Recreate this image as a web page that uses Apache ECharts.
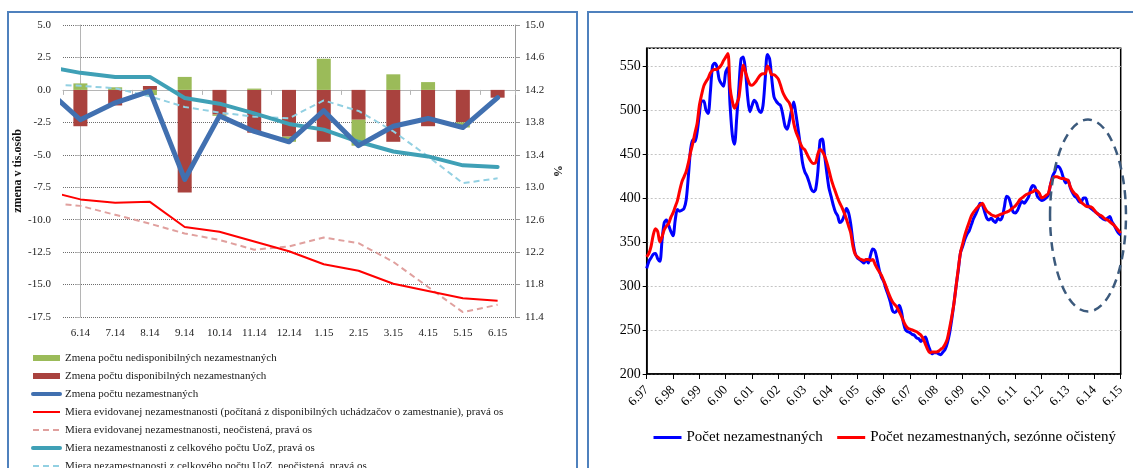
<!DOCTYPE html>
<html><head><meta charset="utf-8">
<script src="https://cdn.jsdelivr.net/npm/echarts@6/dist/echarts.min.js"></script>
<style>html,body{margin:0;padding:0;background:#fff}#c{width:1133px;height:468px}</style>
</head><body><div id="c"></div>
<script>
// ---------- Left chart data ----------
const leftCats = ['6.14','7.14','8.14','9.14','10.14','11.14','12.14','1.15','2.15','3.15','4.15','5.15','6.15'];
// line series include the preceding month 5.14 (clipped at the left edge)
const lineCats = ['5.14','6.14','7.14','8.14','9.14','10.14','11.14','12.14','1.15','2.15','3.15','4.15','5.15','6.15'];
const nedisponibilni = [0.5, 0.2, -0.4, 1.0, -0.1, 0.1, -0.4, 2.4, -2.0, 1.2, 0.6, -0.4, 0.0];
const disponibilni   = [-2.8, -1.2, 0.3, -7.9, -1.9, -3.3, -3.6, -4.0, -2.3, -4.0, -2.8, -2.5, -0.6];
const zmenaSpolu     = [0.1, -2.3, -1.0, -0.1, -6.9, -2.0, -3.2, -4.0, -1.6, -4.3, -2.8, -2.2, -2.9, -0.6];
const mieraEvid      = [12.96, 12.85, 12.81, 12.82, 12.51, 12.45, 12.33, 12.21, 12.05, 11.97, 11.81, 11.72, 11.63, 11.60];
const mieraEvidNeoc  = [12.81, 12.77, 12.66, 12.55, 12.43, 12.35, 12.23, 12.27, 12.38, 12.31, 12.08, 11.77, 11.46, 11.55];
const mieraUoZ       = [14.49, 14.41, 14.36, 14.36, 14.10, 14.03, 13.91, 13.78, 13.71, 13.56, 13.44, 13.38, 13.27, 13.25];
const mieraUoZNeoc   = [14.27, 14.25, 14.22, 14.12, 13.99, 13.92, 13.87, 13.85, 14.07, 13.94, 13.69, 13.38, 13.05, 13.11];
const leftTicks = {min: -17.5, max: 5, interval: 2.5};
const rightTicks = {min: 11.4, max: 15.0, interval: 0.4};

// ---------- Right chart data (monthly, 6.97 .. 6.15) ----------
const startYear = 1997, startMonth = 6, nMonths = 217;
const pocet = [
 320,328,332,336,337,331,328,352,372,375,369,362,
 357,375,387,385,386,388,398,425,455,466,464,475,
 495,510,510,500,496,520,550,553,549,535,530,527,
 543,548,505,472,461,490,525,558,560,545,515,498,
 505,511,508,500,497,505,535,563,558,535,515,510,
 507,505,495,482,478,487,500,509,495,478,460,440,
 430,425,418,410,407,410,430,465,467,450,430,412,
 402,392,384,380,372,374,380,388,383,370,350,337,
 332,330,328,326,330,326,335,342,340,330,318,310,
 305,297,290,282,272,270,272,278,272,258,250,248,
 247,245,244,241,240,237,240,242,235,228,223,224,
 224,223,222,225,228,235,246,262,280,300,318,338,
 345,353,359,363,370,377,382,388,394,392,384,377,
 375,377,374,372,377,375,378,390,402,400,392,384,
 383,386,392,396,394,397,401,410,414,412,402,399,
 397,398,400,403,415,425,430,436,435,430,422,417,
 420,412,406,402,400,396,395,400,400,392,389,387,
 385,383,381,378,376,375,377,379,373,369,364,360,
 358];
const pocetSA = [
 333,337,345,358,365,362,350,356,364,368,371,378,
 383,390,397,408,418,424,430,440,452,462,474,485,
 505,517,527,532,536,542,545,546,546,548,551,556,
 560,564,525,510,502,507,514,535,551,543,535,529,
 528,530,533,537,540,541,541,550,546,540,540,538,
 535,528,520,515,511,508,500,485,475,469,462,457,
 455,450,445,441,439,440,450,455,453,448,441,432,
 422,414,407,400,394,389,383,376,368,360,345,336,
 333,331,330,329,330,330,329,330,325,320,316,312,
 306,300,293,287,282,279,276,271,266,260,255,252,
 251,250,249,248,246,244,240,234,228,224,225,225,
 225,226,228,230,234,240,252,265,280,300,320,338,
 348,358,366,373,380,384,387,390,392,394,389,385,
 383,381,380,379,380,381,382,383,384,385,387,389,
 391,394,398,400,402,404,405,406,407,409,408,405,
 400,401,403,405,415,422,424,424,423,422,422,421,
 420,413,408,405,403,399,395,393,391,390,390,389,
 386,383,381,380,378,376,375,373,371,369,366,363,
 360];
const rightYTicks = {min: 200, max: 570, interval: 50};
// annotation ellipse (data units: month index, value)
const ellipseCenter = [201.1, 380];
const ellipseRadius = [17.3, 109];

const monthCats = [];
for (let i = 0; i < nMonths; i++) {
  const mm = (startMonth - 1 + i) % 12 + 1;
  const yy = (startYear + Math.floor((startMonth - 1 + i) / 12)) % 100;
  monthCats.push(mm + '.' + String(yy).padStart(2, '0'));
}
const pairs = arr => arr.map((v, i) => [i - 1, v]);

const FONT = 'Liberation Serif';
const N = {
  g: 'Zmena počtu nedisponibilných nezamestnaných',
  r: 'Zmena počtu disponibilných nezamestnaných',
  b: 'Zmena počtu nezamestnaných',
  e: 'Miera evidovanej nezamestnanosti (počítaná z disponibilných uchádzačov o zamestnanie), pravá os',
  en: 'Miera evidovanej nezamestnanosti, neočistená, pravá os',
  u: 'Miera nezamestnanosti z celkového počtu UoZ, pravá os',
  un: 'Miera nezamestnanosti z celkového počtu UoZ, neočistená, pravá os',
  p: 'Počet nezamestnaných',
  ps: 'Počet nezamestnaných, sezónne očistený'
};

const chart = echarts.init(document.getElementById('c'), null, {renderer: 'canvas'});
const lineBase = {type: 'line', showSymbol: false, symbol: 'none', clip: true, animation: false, silent: true};

chart.setOption({
  animation: false,
  textStyle: {fontFamily: FONT},
  grid: [
    {left: 63, right: 618, top: 25, bottom: 151},
    {left: 646.7, right: 12.3, top: 48.3, bottom: 94, show: true, borderColor: '#000', borderWidth: 1.5, backgroundColor: 'transparent'}
  ],
  legend: [
    {
      orient: 'vertical', left: 31, top: 352, height: 160, padding: 0,
      itemWidth: 27, itemHeight: 6, itemGap: 6,
      selectedMode: false,
      itemStyle: {opacity: 0},
      textStyle: {fontFamily: FONT, fontSize: 11, color: '#1a1a1a', lineHeight: 12},
      data: [{name: N.g, icon: 'rect', itemStyle: {opacity: 1}}, {name: N.r, icon: 'rect', itemStyle: {opacity: 1}},
             {name: N.b, lineStyle: {width: 4, cap: 'round'}}, {name: N.e, lineStyle: {width: 2}},
             {name: N.en, lineStyle: {width: 2}}, {name: N.u, lineStyle: {width: 4, cap: 'round'}},
             {name: N.un, lineStyle: {width: 2}}]
    },
    {
      orient: 'horizontal', left: 652, top: 430, padding: 0, itemWidth: 28, itemHeight: 10, itemGap: 13,
      selectedMode: false,
      itemStyle: {opacity: 0},
      textStyle: {fontFamily: FONT, fontSize: 15, color: '#000'},
      data: [{name: N.p, lineStyle: {width: 3}}, {name: N.ps, lineStyle: {width: 3}}]
    }
  ],
  xAxis: [
    { // labels for left chart
      type: 'category', gridIndex: 0, data: leftCats, position: 'bottom',
      axisLine: {show: false, onZero: false}, axisTick: {show: false},
      axisLabel: {fontFamily: FONT, fontSize: 11, color: '#222', margin: 11}
    },
    { // hidden value axis for left-chart lines
      type: 'value', gridIndex: 0, min: -0.5, max: 12.5, show: false
    },
    { // axis line with ticks at zero
      type: 'category', gridIndex: 0, data: leftCats, position: 'bottom',
      axisLine: {show: true, onZero: true, onZeroAxisIndex: 0, lineStyle: {color: '#b5b5b5', width: 1}},
      axisTick: {show: true, length: 5, lineStyle: {color: '#b5b5b5'}},
      axisLabel: {show: false}
    },
    { // right chart
      type: 'category', gridIndex: 1, data: monthCats, boundaryGap: false,
      axisLine: {show: true, lineStyle: {color: '#000', width: 1.5}},
      axisTick: {show: true, interval: 11, length: 5, lineStyle: {color: '#000'}},
      axisLabel: {interval: 11, rotate: 45, fontFamily: FONT, fontSize: 13, color: '#000', margin: 14},
      splitLine: {show: false}
    }
  ],
  yAxis: [
    {
      type: 'value', gridIndex: 0, min: leftTicks.min, max: leftTicks.max, interval: leftTicks.interval,
      name: 'zmena v tis.osôb', nameLocation: 'middle', nameGap: 34, nameRotate: 90,
      nameTextStyle: {fontFamily: FONT, fontSize: 12, fontWeight: 'bold', color: '#111'},
      axisLine: {show: true, lineStyle: {color: '#b5b5b5'}},
      axisTick: {show: true, length: 5, lineStyle: {color: '#b5b5b5'}},
      axisLabel: {fontFamily: FONT, fontSize: 11, color: '#222', margin: 12, formatter: v => v.toFixed(1)},
      splitLine: {show: true, lineStyle: {color: '#6e6e6e', type: [1, 1], width: 1}}
    },
    {
      type: 'value', gridIndex: 0, position: 'right', min: rightTicks.min, max: rightTicks.max, interval: rightTicks.interval,
      name: '%', nameLocation: 'middle', nameGap: 36, nameRotate: -90,
      nameTextStyle: {fontFamily: FONT, fontSize: 12, fontWeight: 'bold', color: '#111'},
      axisLine: {show: true, lineStyle: {color: '#9a9a9a'}},
      axisTick: {show: true, length: 5, lineStyle: {color: '#9a9a9a'}},
      axisLabel: {fontFamily: FONT, fontSize: 11, color: '#222', margin: 10, formatter: v => v.toFixed(1)},
      splitLine: {show: false}
    },
    {
      type: 'value', gridIndex: 1, min: rightYTicks.min, max: rightYTicks.max, interval: rightYTicks.interval,
      axisLine: {show: true, lineStyle: {color: '#000', width: 1.5}},
      axisTick: {show: true, length: 4, lineStyle: {color: '#000'}},
      axisLabel: {fontFamily: FONT, fontSize: 14, color: '#000', margin: 6, showMaxLabel: false},
      splitLine: {show: true, lineStyle: {color: '#c4c4c4', type: [2, 2], width: 1}}
    }
  ],
  series: [
    {name: N.r, type: 'bar', xAxisIndex: 0, yAxisIndex: 0, stack: 'z', data: disponibilni,
     barWidth: 14, itemStyle: {color: '#a9423e'}, silent: true},
    {name: N.g, type: 'bar', xAxisIndex: 0, yAxisIndex: 0, stack: 'z', data: nedisponibilni,
     barWidth: 14, itemStyle: {color: '#9bbb59'}, silent: true},
    Object.assign({}, lineBase, {name: N.en, xAxisIndex: 1, yAxisIndex: 1, data: pairs(mieraEvidNeoc),
     lineStyle: {color: '#e0a09e', width: 2, type: [6, 4]}, itemStyle: {color: '#e0a09e'}}),
    Object.assign({}, lineBase, {name: N.e, xAxisIndex: 1, yAxisIndex: 1, data: pairs(mieraEvid),
     lineStyle: {color: '#ff0000', width: 2}, itemStyle: {color: '#ff0000'}}),
    Object.assign({}, lineBase, {name: N.un, xAxisIndex: 1, yAxisIndex: 1, data: pairs(mieraUoZNeoc),
     lineStyle: {color: '#92d0e2', width: 2, type: [6, 4]}, itemStyle: {color: '#92d0e2'}}),
    Object.assign({}, lineBase, {name: N.u, xAxisIndex: 1, yAxisIndex: 1, data: pairs(mieraUoZ),
     lineStyle: {color: '#3fa0b6', width: 4, cap: 'round', join: 'round'}, itemStyle: {color: '#3fa0b6'}}),
    Object.assign({}, lineBase, {name: N.b, xAxisIndex: 1, yAxisIndex: 0, data: pairs(zmenaSpolu),
     lineStyle: {color: '#4170b0', width: 5, cap: 'round', join: 'round'}, itemStyle: {color: '#4170b0'}}),
    Object.assign({}, lineBase, {name: N.p, xAxisIndex: 3, yAxisIndex: 2, data: pocet, smooth: 0.3,
     lineStyle: {color: '#0000ff', width: 3, join: 'round'}, itemStyle: {color: '#0000ff'}}),
    Object.assign({}, lineBase, {name: N.ps, xAxisIndex: 3, yAxisIndex: 2, data: pocetSA, smooth: 0.3,
     lineStyle: {color: '#ff0000', width: 3, join: 'round'}, itemStyle: {color: '#ff0000'}})
  ],
  graphic: [
    {id: 'p1', type: 'rect', shape: {x: 8, y: 12, width: 569, height: 520}, style: {fill: 'none', stroke: '#4f81bd', lineWidth: 2}, silent: true, z: 100},
    {id: 'p2', type: 'rect', shape: {x: 588, y: 12, width: 600, height: 520}, style: {fill: 'none', stroke: '#4f81bd', lineWidth: 2}, silent: true, z: 100}
  ]
});

// ellipse annotation placed through the right chart's axes
const p0 = chart.convertToPixel({gridIndex: 1}, [0, rightYTicks.min]);
const p1 = chart.convertToPixel({gridIndex: 1}, [nMonths - 1, rightYTicks.max]);
const sx = (p1[0] - p0[0]) / (nMonths - 1);
const sy = (p0[1] - p1[1]) / (rightYTicks.max - rightYTicks.min);
chart.setOption({
  graphic: [
    {id: 'p1'}, {id: 'p2'},
    {id: 'ell', type: 'ellipse',
     shape: {cx: p0[0] + ellipseCenter[0] * sx, cy: p0[1] - (ellipseCenter[1] - rightYTicks.min) * sy,
             rx: ellipseRadius[0] * sx, ry: ellipseRadius[1] * sy},
     style: {fill: 'none', stroke: '#3c5a7c', lineWidth: 2.5, lineDash: [9, 6]}, silent: true, z: 100}
  ]
});
</script></body></html>
